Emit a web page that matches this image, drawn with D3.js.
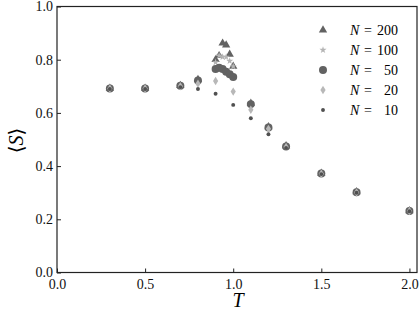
<!DOCTYPE html>
<html>
<head>
<meta charset="utf-8">
<script src="https://cdn.jsdelivr.net/npm/d3@7"></script>
<style>
  body { margin: 0; background: #fff; }
  svg { display: block; font-family: "Liberation Serif", "DejaVu Serif", serif; }
</style>
</head>
<body>
<svg width="420" height="313"></svg>
<script>
// data
var tCoarse = [0.3, 0.5, 0.7, 0.8, 0.9, 1.0, 1.1, 1.2, 1.3, 1.5, 1.7, 2.0];
var tFine = [0.3, 0.5, 0.7, 0.8, 0.9, 0.92, 0.94, 0.96, 0.98, 1.0, 1.1, 1.2, 1.3, 1.5, 1.7, 2.0];

var s200 = [0.692, 0.692, 0.703, 0.725, 0.80, 0.815, 0.862, 0.855, 0.82, 0.775, 0.636, 0.548, 0.476, 0.373, 0.303, 0.232];
var s100 = [0.692, 0.692, 0.703, 0.722, 0.79, 0.815, 0.81, 0.81, 0.795, 0.775, 0.634, 0.547, 0.475, 0.372, 0.302, 0.232];
var s50  = [0.692, 0.692, 0.702, 0.722, 0.765, 0.77, 0.765, 0.755, 0.745, 0.735, 0.633, 0.545, 0.474, 0.372, 0.302, 0.231];
var s20  = [0.692, 0.692, 0.700, 0.71, 0.72, 0.68, 0.612, 0.54, 0.472, 0.371, 0.301, 0.231];
var s10  = [0.690, 0.690, 0.697, 0.69, 0.672, 0.63, 0.58, 0.52, 0.468, 0.370, 0.300, 0.230];

var xTicks = [0.0, 0.5, 1.0, 1.5, 2.0];
var yTicks = [0.0, 0.2, 0.4, 0.6, 0.8, 1.0];

var series = [
  { n: "200", t: tFine, s: s200, shape: "triangle", color: "#626262" },
  { n: "100", t: tFine, s: s100, shape: "star", color: "#b4b4b4" },
  { n: "50", t: tFine, s: s50, shape: "circle", color: "#626262" },
  { n: "20", t: tCoarse, s: s20, shape: "diamond", color: "#b8b8b8" },
  { n: "10", t: tCoarse, s: s10, shape: "dot", color: "#505050" }
];

var svg = d3.select("svg");
var pLeft = 57, pRight = 417, pTop = 6.5, pBottom = 272.5;

var x = d3.scaleLinear().domain([0, 2.043]).range([pLeft, pRight]);
var y = d3.scaleLinear().domain([0, 1]).range([pBottom, pTop]);

// marker paths
function markerPath(shape) {
  if (shape == "triangle") return d3.symbol(d3.symbolTriangle, 30)();
  if (shape == "star") return d3.symbol(d3.symbolStar, 16)();
  if (shape == "circle") return d3.symbol(d3.symbolCircle, 50)();
  if (shape == "diamond") return "M0,-4.2L2.6,0L0,4.2L-2.6,0Z";
  return d3.symbol(d3.symbolCircle, 12)();
}

// points
series.forEach(function(sr) {
  var pts = sr.t.map(function(t, i) { return { t: t, s: sr.s[i] }; });
  svg.append("g")
    .selectAll("path")
    .data(pts)
    .enter().append("path")
    .attr("d", markerPath(sr.shape))
    .attr("fill", sr.color)
    .attr("transform", function(d) { return "translate(" + x(d.t) + "," + y(d.s) + ")"; });
});

// axes
var xAxis = d3.axisBottom(x).tickValues(xTicks).tickFormat(d3.format(".1f")).tickSizeInner(-4).tickSizeOuter(0).tickPadding(6);
var yAxis = d3.axisLeft(y).tickValues(yTicks).tickFormat(d3.format(".1f")).tickSizeInner(-4).tickSizeOuter(0).tickPadding(5);

var gx = svg.append("g").attr("transform", "translate(0," + pBottom + ")").call(xAxis);
var gy = svg.append("g").attr("transform", "translate(" + pLeft + ",0)").call(yAxis);

[gx, gy].forEach(function(g) {
  g.select(".domain").remove();
  g.selectAll(".tick line").attr("stroke", "#222");
  g.selectAll(".tick text").attr("fill", "#111").attr("font-size", 14).attr("font-family", "Liberation Serif, serif");
});
gx.selectAll(".tick text").attr("y", 5).attr("dy", "0.8em");
gy.selectAll(".tick text").attr("x", -4);

// frame
svg.append("rect")
  .attr("x", pLeft).attr("y", pTop)
  .attr("width", pRight - pLeft).attr("height", pBottom - pTop)
  .attr("fill", "none").attr("stroke", "#222").attr("stroke-width", 1.2);

// axis labels
svg.append("text")
  .attr("x", (pLeft + pRight) / 2 + 1).attr("y", 307)
  .attr("text-anchor", "middle")
  .attr("font-size", 20).attr("font-style", "italic")
  .text("T");

svg.append("text")
  .attr("transform", "translate(23," + ((pTop + pBottom) / 2 + 1) + ") rotate(-90)")
  .attr("text-anchor", "middle")
  .attr("font-size", 20)
  .html('⟨<tspan font-style="italic">S</tspan>⟩');

// legend
var leg = svg.append("g");
series.forEach(function(sr, i) {
  var ly = 30 + i * 20;
  leg.append("path")
    .attr("d", markerPath(sr.shape))
    .attr("fill", sr.color)
    .attr("transform", "translate(323," + ly + ")");
  leg.append("text")
    .attr("x", 350).attr("y", ly + 5)
    .attr("font-size", 14).attr("font-style", "italic")
    .text("N");
  leg.append("text")
    .attr("x", 364).attr("y", ly + 5)
    .attr("font-size", 14)
    .text("=");
  leg.append("text")
    .attr("x", 398).attr("y", ly + 5)
    .attr("font-size", 14).attr("text-anchor", "end")
    .text(sr.n);
});
</script>
</body>
</html>
